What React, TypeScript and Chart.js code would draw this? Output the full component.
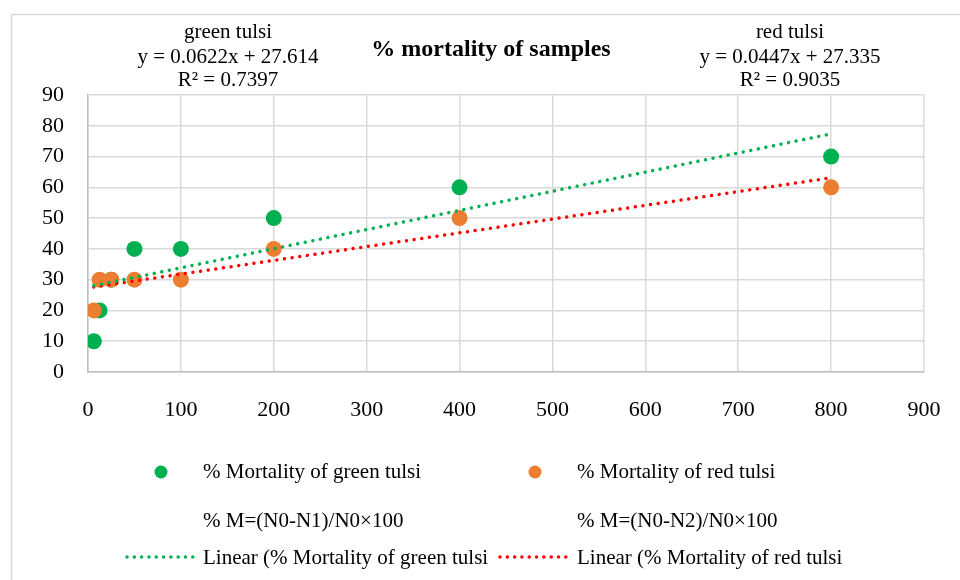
import React, { useEffect, useRef } from "react";
import { Chart, registerables } from "chart.js";

Chart.register(...registerables);

const concentrations = [6.25, 12.5, 25, 50, 100, 200, 400, 800];
const greenMortality = [10, 20, 30, 40, 40, 50, 60, 70];
const redMortality = [20, 30, 30, 30, 30, 40, 50, 60];
const greenFit = [0.0622, 27.614];
const redFit = [0.0447, 27.335];
const greenLabels = ["green tulsi", "y = 0.0622x + 27.614", "R² = 0.7397"];
const redLabels = ["red tulsi", "y = 0.0447x + 27.335", "R² = 0.9035"];
const titleText = "% mortality of samples";
const legendNames = [
  "% Mortality of green tulsi",
  "% Mortality of red tulsi",
  "% M=(N0-N1)/N0×100",
  "% M=(N0-N2)/N0×100",
  "Linear (% Mortality of green tulsi",
  "Linear (% Mortality of red tulsi",
];

const GREEN = "#00B050";
const ORANGE = "#ED7D31";
const RED = "#FF0000";
const GRID = "#d9d9d9";
const FONT = "'Liberation Serif', 'Times New Roman', serif";

function trend(fit: number[]) {
  const xs = [Math.min(...concentrations), Math.max(...concentrations)];
  return xs.map((x) => ({ x, y: fit[0] * x + fit[1] }));
}

const decorPlugin = {
  id: "decor",
  beforeDraw(chart: any) {
    const ctx = chart.ctx;
    ctx.save();
    ctx.fillStyle = "#ffffff";
    ctx.fillRect(0, 0, chart.width, chart.height);
    ctx.strokeStyle = GRID;
    ctx.lineWidth = 1.5;
    ctx.strokeRect(11.5, 14.5, chart.width + 10, chart.height + 10);
    ctx.restore();
  },
  afterDraw(chart: any) {
    const ctx = chart.ctx;
    ctx.save();
    ctx.fillStyle = "#000";
    ctx.textBaseline = "middle";
    ctx.textAlign = "center";
    ctx.font = `bold 24px ${FONT}`;
    ctx.fillText(titleText, 491, 50);
    ctx.font = `21px ${FONT}`;
    const ys = [32, 57, 80];
    greenLabels.forEach((t, i) => ctx.fillText(t, 228, ys[i]));
    redLabels.forEach((t, i) => ctx.fillText(t, 790, ys[i]));

    // legend
    ctx.textAlign = "left";
    const col = [
      { mx: 161, tx: 203, c: GREEN, lc: GREEN, lx0: 127, lx1: 193 },
      { mx: 535, tx: 577, c: ORANGE, lc: RED, lx0: 500, lx1: 568 },
    ];
    col.forEach((c, i) => {
      ctx.fillStyle = c.c;
      ctx.beginPath();
      ctx.arc(c.mx, 472, 6.5, 0, Math.PI * 2);
      ctx.fill();
      ctx.fillStyle = "#000";
      ctx.fillText(legendNames[i], c.tx, 472);
      ctx.fillText(legendNames[2 + i], c.tx, 521);
      ctx.fillText(legendNames[4 + i], c.tx, 558);
      ctx.strokeStyle = c.lc;
      ctx.lineWidth = 3.5;
      ctx.lineCap = "round";
      ctx.setLineDash([0.01, 7.3]);
      ctx.beginPath();
      ctx.moveTo(c.lx0, 557);
      ctx.lineTo(c.lx1, 557);
      ctx.stroke();
      ctx.setLineDash([]);
    });
    ctx.restore();
  },
};

export default function App() {
  const ref = useRef<HTMLCanvasElement | null>(null);
  useEffect(() => {
    if (!ref.current) return;
    const chart = new Chart(ref.current, {
      type: "scatter",
      data: {
        datasets: [
          {
            type: "line",
            label: legendNames[4],
            data: trend(greenFit),
            borderColor: GREEN,
            borderWidth: 3.5,
            borderDash: [0.01, 7.7],
            borderCapStyle: "round",
            pointRadius: 0,
            fill: false,
            order: 0,
          } as any,
          {
            type: "line",
            label: legendNames[5],
            data: trend(redFit),
            borderColor: RED,
            borderWidth: 3.5,
            borderDash: [0.01, 7.7],
            borderCapStyle: "round",
            pointRadius: 0,
            fill: false,
            order: 1,
          } as any,
          {
            label: legendNames[1],
            data: concentrations.map((x, i) => ({ x, y: redMortality[i] })),
            backgroundColor: ORANGE,
            borderColor: ORANGE,
            pointRadius: 8,
            pointBorderWidth: 0,
            order: 2,
          },
          {
            label: legendNames[0],
            data: concentrations.map((x, i) => ({ x, y: greenMortality[i] })),
            backgroundColor: GREEN,
            borderColor: GREEN,
            pointRadius: 8,
            pointBorderWidth: 0,
            order: 3,
          },
        ],
      },
      options: {
        animation: false,
        responsive: false,
        maintainAspectRatio: false,
        layout: { padding: { left: 12, right: 36, top: 95, bottom: 0 } },
        plugins: {
          legend: { display: false },
          tooltip: { enabled: false },
          title: { display: false },
        },
        scales: {
          x: {
            type: "linear",
            min: 0,
            max: 900,
            ticks: {
              stepSize: 100,
              color: "#000",
              padding: 25,
              font: { family: FONT, size: 22 },
            },
            grid: { color: GRID, lineWidth: 1.5, drawTicks: false },
            border: { color: "#bfbfbf", width: 1.5 },
            afterFit: (s: any) => {
              s.height = 208;
              s.paddingLeft = 0;
              s.paddingRight = 0;
            },
          },
          y: {
            type: "linear",
            min: 0,
            max: 90,
            ticks: {
              stepSize: 10,
              color: "#000",
              padding: 24,
              font: { family: FONT, size: 22 },
            },
            grid: { color: GRID, lineWidth: 1.5, drawTicks: false },
            border: { color: "#bfbfbf", width: 1.5 },
            afterFit: (s: any) => {
              s.width = 76;
              s.paddingTop = 0;
              s.paddingBottom = 0;
            },
          },
        },
      },
      plugins: [decorPlugin],
    } as any);
    return () => chart.destroy();
  }, []);
  return (
    <div style={{ position: "fixed", left: 0, top: 0, width: 960, height: 580 }}>
      <canvas ref={ref} width={960} height={580} style={{ width: 960, height: 580 }} />
    </div>
  );
}
